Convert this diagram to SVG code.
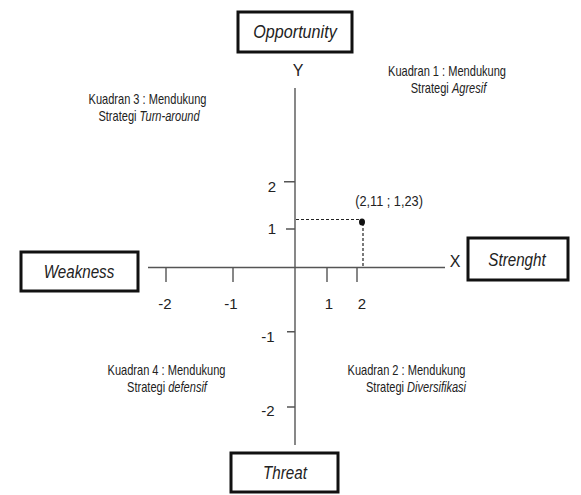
<svg xmlns="http://www.w3.org/2000/svg" width="581" height="495" viewBox="0 0 581 495">
<style>
text{font-family:"Liberation Sans",Arial,sans-serif;fill:#222}
.box rect{fill:#fff;stroke:#111;stroke-width:3}
.box text{font-size:19px;font-style:italic;text-anchor:middle}
.q text{font-size:14px;text-anchor:middle}
.it{font-style:italic}
.axis{stroke:#555;stroke-width:1.4;fill:none}
.dash{stroke:#222;stroke-width:1.2;stroke-dasharray:3 2;fill:none}
.num{font-size:15px;text-anchor:middle}
.lbl{font-size:16px;text-anchor:middle}
</style>
<rect width="581" height="495" fill="#fff"/>
<g id="connectors">
<line class="axis" x1="295" y1="88" x2="295" y2="445"/>
<line class="axis" x1="148" y1="267.5" x2="445" y2="267.5"/>
<path class="axis" d="M166 267.5V282M233 267.5V282M327 267.5V282M357 267.5V282"/>
<path class="axis" d="M284 181.7H295M286 229H295M287 331.7H295M287 407H295"/>
<line class="dash" x1="296" y1="219.5" x2="362" y2="219.5"/>
<line class="dash" x1="363" y1="223" x2="363" y2="267"/>
<ellipse cx="362" cy="222" rx="3" ry="3.6" fill="#111"/>
</g>
<g id="labels">
<text class="lbl" x="298" y="76">Y</text>
<text class="lbl" x="455" y="267">X</text>
<text class="num" x="165" y="309">-2</text>
<text class="num" x="231" y="309">-1</text>
<text class="num" x="329" y="309">1</text>
<text class="num" x="362" y="309">2</text>
<text class="num" x="272" y="192">2</text>
<text class="num" x="272" y="234">1</text>
<text class="num" x="268" y="342">-1</text>
<text class="num" x="268" y="416">-2</text>
<text class="num" transform="translate(389 206) scale(0.85 1)">(2,11 ; 1,23)</text>
</g>
<g id="node-opportunity" class="box">
<rect x="238" y="12" width="114" height="40"/>
<text transform="translate(295 38) scale(0.85 1)">Opportunity</text>
</g>
<g id="node-weakness" class="box">
<rect x="21" y="252" width="117" height="39"/>
<text transform="translate(79 278) scale(0.8 1)">Weakness</text>
</g>
<g id="node-strenght" class="box">
<rect x="468" y="238" width="100" height="42"/>
<text transform="translate(517 266) scale(0.8 1)">Strenght</text>
</g>
<g id="node-threat" class="box">
<rect x="231" y="453" width="107" height="39"/>
<text transform="translate(285 479) scale(0.8 1)">Threat</text>
</g>
<g id="kuadran-1" class="q">
<text transform="translate(447 76) scale(0.79 1)">Kuadran 1 : Mendukung</text>
<text transform="translate(448.5 93) scale(0.79 1)">Strategi <tspan class="it">Agresif</tspan></text>
</g>
<g id="kuadran-3" class="q">
<text transform="translate(147.5 104) scale(0.79 1)">Kuadran 3 : Mendukung</text>
<text transform="translate(149 121) scale(0.79 1)">Strategi <tspan class="it">Turn-around</tspan></text>
</g>
<g id="kuadran-4" class="q">
<text transform="translate(166.5 375) scale(0.79 1)">Kuadran 4 : Mendukung</text>
<text transform="translate(167 392) scale(0.79 1)">Strategi <tspan class="it">defensif</tspan></text>
</g>
<g id="kuadran-2" class="q">
<text transform="translate(406.5 375) scale(0.79 1)">Kuadran 2 : Mendukung</text>
<text transform="translate(416 392) scale(0.79 1)">Strategi <tspan class="it">Diversifikasi</tspan></text>
</g>
</svg>
